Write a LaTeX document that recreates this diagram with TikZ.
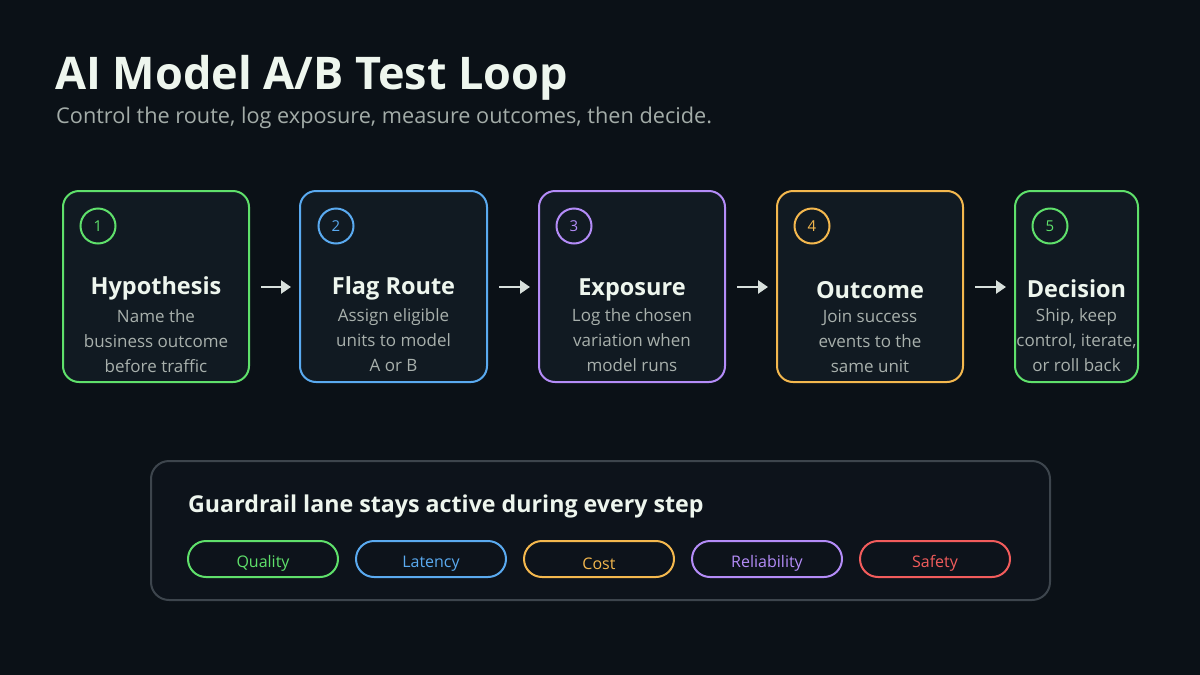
\documentclass[tikz,border=0pt]{standalone}
\usepackage{fontspec}
\setmainfont{Open Sans}
\usetikzlibrary{arrows.meta}
\definecolor{bg}{HTML}{0B1117}
\definecolor{boxfill}{HTML}{111A22}
\definecolor{panelfill}{HTML}{0D131B}
\definecolor{panelline}{HTML}{3D454D}
\definecolor{titlec}{HTML}{EEF6EE}
\definecolor{subc}{HTML}{A3ACA8}
\definecolor{descc}{HTML}{A8B0AC}
\definecolor{arrowc}{HTML}{D8E0DC}
\definecolor{cgreen}{HTML}{5FE06B}
\definecolor{cblue}{HTML}{5AAAF0}
\definecolor{cpurple}{HTML}{B48CF8}
\definecolor{corange}{HTML}{F4B84E}
\definecolor{cred}{HTML}{F25C5C}
\begin{document}
\begin{tikzpicture}[x=1pt,y=-1pt,
  stepbox/.style={draw=#1, line width=2pt, fill=boxfill, rounded corners=16pt, minimum height=191pt, inner sep=0pt},
  numcirc/.style={draw=#1, text=#1, circle, line width=2pt, minimum size=35pt, inner sep=0pt, font=\fontsize{15}{18}\selectfont},
  steptitle/.style={anchor=base, text=titlec, font=\fontsize{23.5}{28}\bfseries\selectfont},
  stepdesc/.style={anchor=north, text=descc, align=center, inner sep=0pt, font=\fontsize{17}{25}\selectfont},
  flow/.style={draw=arrowc, line width=2.5pt, -{Triangle[length=10pt,width=13pt]}},
  pill/.style={draw=#1, text=#1, line width=2pt, rounded corners=18pt, minimum width=150pt, minimum height=36pt, inner sep=0pt, text height=16pt, text depth=0pt, font=\fontsize{16}{20}\selectfont}
]
\fill[bg] (0,0) rectangle (1200,675);
\useasboundingbox (0,0) rectangle (1200,675);

% header
\node[anchor=base west, inner sep=0pt, text=titlec, font=\fontsize{45}{50}\bfseries\selectfont] (title) at (55,89) {AI Model A/B Test Loop};
\node[anchor=base west, inner sep=0pt, text=subc, font=\fontsize{21.7}{26}\selectfont] (sub) at (56,123) {Control the route, log exposure, measure outcomes, then decide.};

% step boxes
\node[stepbox=cgreen, minimum width=186pt] (b1) at (156,286.5) {};
\node[stepbox=cblue, minimum width=187pt] (b2) at (393.5,286.5) {};
\node[stepbox=cpurple, minimum width=186pt] (b3) at (632,286.5) {};
\node[stepbox=corange, minimum width=186pt] (b4) at (870,286.5) {};
\node[stepbox=cgreen, minimum width=123pt] (b5) at (1076.5,286.5) {};

% number circles
\node[numcirc=cgreen] (n1) at (98,226) {1};
\node[numcirc=cblue] (n2) at (336,226) {2};
\node[numcirc=cpurple] (n3) at (574,226) {3};
\node[numcirc=corange] (n4) at (812,226) {4};
\node[numcirc=cgreen] (n5) at (1050,226) {5};

% titles
\node[steptitle] (t1) at (156,294) {Hypothesis};
\node[steptitle] (t2) at (393.5,294) {Flag Route};
\node[steptitle] (t3) at (632,295) {Exposure};
\node[steptitle] (t4) at (870,298) {Outcome};
\node[steptitle] (t5) at (1076.5,297) {Decision};

% descriptions
\node[stepdesc] (d1) at (156,309) {Name the\\business outcome\\before traffic};
\node[stepdesc] (d2) at (393.5,308) {Assign eligible\\units to model\\A or B};
\node[stepdesc] (d3) at (632,308) {Log the chosen\\variation when\\model runs};
\node[stepdesc] (d4) at (870,310) {Join success\\events to the\\same unit};
\node[stepdesc] (d5) at (1076.5,308) {Ship, keep\\control, iterate,\\or roll back};

% arrows
\draw[flow] ([xshift=11pt,yshift=-0.5pt]b1.east) -- ([xshift=-8pt,yshift=-0.5pt]b2.west);
\draw[flow] ([xshift=11pt,yshift=-0.5pt]b2.east) -- ([xshift=-8pt,yshift=-0.5pt]b3.west);
\draw[flow] ([xshift=11pt,yshift=-0.5pt]b3.east) -- ([xshift=-8pt,yshift=-0.5pt]b4.west);
\draw[flow] ([xshift=11pt,yshift=-0.5pt]b4.east) -- ([xshift=-8pt,yshift=-0.5pt]b5.west);

% guardrail panel
\node[draw=panelline, line width=2pt, fill=panelfill, rounded corners=18pt, minimum width=899pt, minimum height=139pt, inner sep=0pt] (panel) at (600.5,530.5) {};
\node[anchor=base west, inner sep=0pt, text=titlec, font=\fontsize{23.2}{26}\bfseries\selectfont] (gtitle) at (188,512) {Guardrail lane stays active during every step};

\node[pill=cgreen] (p1) at (263,559) {Quality};
\node[pill=cblue] (p2) at (431,559) {Latency};
\node[pill=corange] (p3) at (599,559) {\raisebox{-2pt}{Cost}};
\node[pill=cpurple] (p4) at (767,559) {Reliability};
\node[pill=cred] (p5) at (935,559) {Safety};
\end{tikzpicture}
\end{document}
